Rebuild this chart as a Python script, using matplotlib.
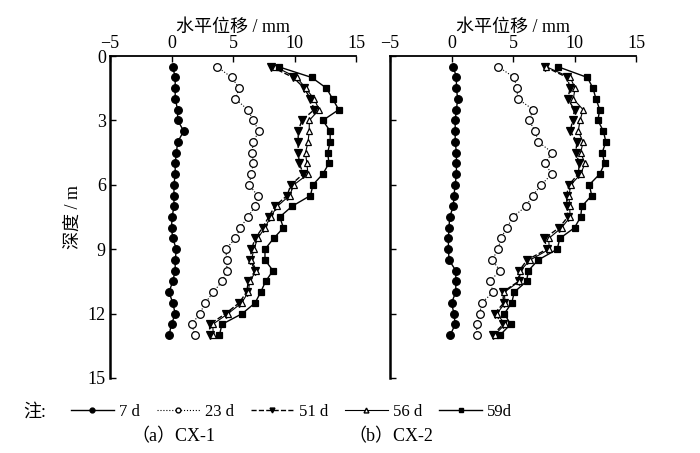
import matplotlib
matplotlib.use("Agg")
import matplotlib.pyplot as plt
from matplotlib.lines import Line2D
import numpy as np

plt.rcParams['font.family'] = ['Liberation Serif', 'Noto Sans CJK SC']
plt.rcParams['axes.unicode_minus'] = True

# depth (m)
depth = np.arange(0.5, 13.01, 0.5)

# CX-1 horizontal displacement (mm)
cx1_7d = [0.1, 0.3, 0.3, 0.3, 0.5, 0.5, 1.0, 0.5, 0.4, 0.3, 0.3, 0.2, 0.2,
          0.2, 0.05, 0.0, 0.1, 0.4, 0.3, 0.3, 0.1, -0.2, 0.1, 0.3, 0.0, -0.2]
cx1_23d = [3.7, 4.9, 5.5, 5.2, 6.2, 6.65, 7.1, 6.65, 6.55, 6.65, 6.5, 6.3, 7.0,
           6.8, 6.2, 5.6, 5.2, 4.4, 4.5, 4.5, 4.1, 3.4, 2.75, 2.3, 1.65, 1.9]
cx1_51d = [8.1, 9.9, 10.8, 11.3, 11.6, 10.6, 10.3, 10.3, 10.3, 10.4, 10.7, 9.7, 9.4,
           8.4, 7.9, 7.4, 6.8, 6.5, 6.4, 6.8, 6.25, 6.1, 5.5, 4.4, 3.1, 3.1]
cx1_56d = [8.4, 10.2, 10.9, 11.6, 12.0, 11.2, 11.2, 11.1, 10.9, 11.0, 11.1, 9.95, 9.6,
           8.6, 8.05, 7.6, 7.0, 6.7, 6.5, 6.9, 6.35, 6.25, 5.7, 4.6, 3.35, 3.4]
cx1_59d = [8.7, 11.4, 12.6, 13.1, 13.6, 12.3, 12.9, 12.9, 12.7, 12.8, 12.3, 11.5, 11.3,
           9.8, 8.8, 9.1, 8.3, 7.6, 7.6, 8.25, 7.65, 7.25, 6.8, 5.75, 4.1, 3.9]

# CX-2 horizontal displacement (mm)
cx2_7d = [0.15, 0.4, 0.4, 0.5, 0.4, 0.3, 0.3, 0.3, 0.4, 0.4, 0.4, 0.3, 0.2,
          0.15, -0.15, -0.2, -0.25, -0.25, -0.2, 0.35, 0.35, 0.35, 0.0, 0.2, 0.3, -0.1]
cx2_23d = [3.8, 5.1, 5.3, 5.4, 6.65, 6.3, 6.8, 7.05, 8.2, 7.6, 8.15, 7.3, 6.6,
           6.05, 5.0, 4.5, 4.0, 3.8, 3.3, 3.95, 3.1, 3.4, 2.45, 2.3, 2.05, 2.05]
cx2_51d = [7.6, 9.4, 9.65, 9.45, 10.0, 9.85, 9.65, 10.2, 10.1, 10.4, 10.3, 9.55, 9.35,
           9.4, 9.45, 8.75, 7.55, 7.75, 6.15, 5.5, 5.45, 4.15, 4.25, 3.5, 4.2, 3.35]
cx2_56d = [7.7, 9.65, 10.05, 9.9, 10.7, 10.45, 10.3, 10.7, 10.5, 10.85, 10.5, 9.7, 9.55,
           9.6, 9.65, 8.95, 7.9, 7.95, 6.4, 5.6, 5.5, 4.3, 4.35, 3.7, 4.35, 3.5]
cx2_59d = [8.65, 11.05, 11.5, 11.75, 12.05, 11.9, 12.35, 12.55, 12.25, 12.45, 12.05, 11.2, 11.4,
           10.6, 10.5, 10.0, 8.8, 8.6, 7.05, 6.25, 6.1, 5.1, 4.9, 4.3, 4.8, 3.95]

labels = ['7 d', '23 d', '51 d', '56 d', '59d']
styles = [
    dict(ls='-', marker='o', mfc='black', ms=5.5, lw=1.0),
    dict(ls=':', marker='o', mfc='white', ms=5.5, lw=0.8),
    dict(ls='--', marker='v', mfc='black', ms=5.5, lw=1.0),
    dict(ls='-', marker='^', mfc='white', ms=5.0, lw=0.8),
    dict(ls='-', marker='s', mfc='black', ms=5.0, lw=1.0),
]

fig = plt.figure(figsize=(7.0, 4.53), dpi=100)
ax1 = fig.add_axes([110 / 700, 1 - 378 / 453, 246 / 700, 322 / 453])
ax2 = fig.add_axes([390 / 700, 1 - 378 / 453, 246 / 700, 322 / 453])


def draw_panel(ax, series, show_y):
    for vals, st in zip(series, styles):
        ax.plot(vals, depth, color='black', mec='black', mew=0.9, **st)
    ax.set_xlim(-5, 15)
    ax.set_ylim(15, 0)
    ax.set_xticks([-5, 0, 5, 10, 15])
    ax.set_yticks([0, 3, 6, 9, 12, 15])
    ax.xaxis.tick_top()
    ax.xaxis.set_label_position('top')
    ax.set_xlabel('水平位移 / mm', fontsize=13, labelpad=2)
    ax.spines['right'].set_visible(False)
    ax.spines['bottom'].set_visible(False)
    ax.spines['top'].set_linewidth(1.3)
    ax.spines['left'].set_linewidth(1.8)
    ax.tick_params(direction='in', length=4, width=1.0, labelsize=13, pad=3)
    if show_y:
        ax.set_ylabel('深度 / m', fontsize=13, labelpad=4)
    else:
        ax.tick_params(axis='y', labelleft=False)


draw_panel(ax1, [cx1_7d, cx1_23d, cx1_51d, cx1_56d, cx1_59d], True)
draw_panel(ax2, [cx2_7d, cx2_23d, cx2_51d, cx2_56d, cx2_59d], False)

handles = [Line2D([], [], color='black', mec='black', mfc=st['mfc'], marker=st['marker'],
                  ls=st['ls'], lw=st['lw'], ms=3.5) for st in styles]
fig.legend(handles, labels, loc='center left', bbox_to_anchor=(64 / 700, 1 - 412 / 453),
           ncol=5, frameon=False, fontsize=12, handlelength=2.6, handletextpad=0.3,
           columnspacing=1.0, borderaxespad=0)
fig.text(23 / 700, 1 - 412 / 453, '注:', fontsize=13, ha='left', va='center')
fig.text(173 / 700, 1 - 437 / 453, '（a）CX-1', fontsize=13, ha='center', va='center')
fig.text(391 / 700, 1 - 437 / 453, '（b）CX-2', fontsize=13, ha='center', va='center')

fig.savefig('out.png', dpi=100)
